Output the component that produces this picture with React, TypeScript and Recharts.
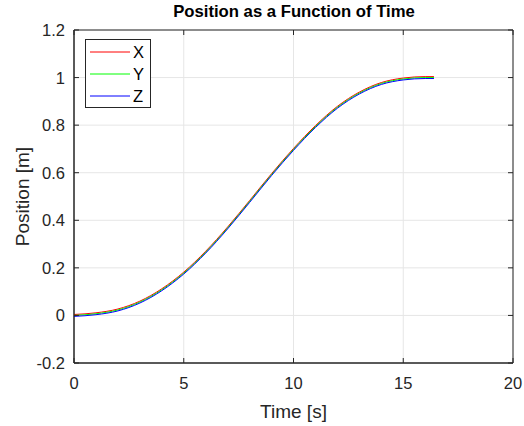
import { LineChart, Line, XAxis, YAxis, CartesianGrid, ReferenceArea } from "recharts";

// time samples [s]
const time = [0, 1, 2, 3, 4, 5, 6, 7, 8, 9, 10, 11, 12, 13, 14, 15, 16, 16.4];
// positions [m]
const posX = [0.004, 0.011, 0.027, 0.06, 0.112, 0.182, 0.27, 0.372, 0.483, 0.596, 0.702, 0.798, 0.879, 0.939, 0.979, 0.998, 1.004, 1.004];
const posY = [0.0, 0.007, 0.023, 0.056, 0.108, 0.178, 0.266, 0.368, 0.479, 0.592, 0.698, 0.794, 0.875, 0.935, 0.975, 0.994, 1.0, 1.0];
const posZ = [-0.004, 0.003, 0.019, 0.052, 0.104, 0.174, 0.262, 0.364, 0.475, 0.588, 0.694, 0.79, 0.871, 0.931, 0.971, 0.99, 0.996, 0.996];

const xTicks = [0, 5, 10, 15, 20];
const yTicks = [-0.2, 0, 0.2, 0.4, 0.6, 0.8, 1, 1.2];

const series = [
  { key: "X", color: "#ff0000" },
  { key: "Y", color: "#00ff00" },
  { key: "Z", color: "#0000ff" },
];

const data = time.map((t, i) => ({ t, X: posX[i], Y: posY[i], Z: posZ[i] }));

const FONT = "'Liberation Sans', Arial, sans-serif";
const INK = "#262626";
const L = 74, R = 513, T = 30, B = 363;

const YTick = (props: any) => {
  const { y, payload } = props;
  return (
    <g>
      <line x1={L} x2={L + 5} y1={y} y2={y} stroke={INK} />
      <line x1={R} x2={R - 5} y1={y} y2={y} stroke={INK} />
      <text x={L - 9} y={y} dy={6} textAnchor="end" fill={INK} fontSize={16.5} fontFamily={FONT}>
        {payload.value}
      </text>
    </g>
  );
};

const XTick = (props: any) => {
  const { x, payload } = props;
  return (
    <g>
      <line x1={x} x2={x} y1={B} y2={B - 5} stroke={INK} />
      <line x1={x} x2={x} y1={T} y2={T + 5} stroke={INK} />
      <text x={x} y={B + 26} textAnchor="middle" fill={INK} fontSize={16.5} fontFamily={FONT}>
        {payload.value}
      </text>
    </g>
  );
};

const LegendBox = () => (
  <svg width={67} height={70} style={{ position: "absolute", left: 85, top: 39 }}>
    <rect x={0.5} y={0.5} width={65} height={68} fill="#fff" stroke={INK} />
    {series.map((s, i) => (
      <g key={s.key}>
        <line x1={5} x2={45} y1={13 + i * 22} y2={13 + i * 22} stroke={s.color} />
        <text x={48} y={19 + i * 22} fontSize={16.5} fontFamily={FONT} fill="#000">
          {s.key}
        </text>
      </g>
    ))}
  </svg>
);

export default function App() {
  return (
    <div style={{ position: "absolute", left: 0, top: 0, width: 524, height: 426, background: "#fff" }}>
      <div style={{ position: "absolute", left: 0, width: 588, top: 2, textAlign: "center", fontFamily: FONT, fontWeight: "bold", fontSize: 16.7, color: "#000" }}>
        Position as a Function of Time
      </div>
      <LineChart width={524} height={426} data={data} margin={{ top: T, right: 524 - R, bottom: 0, left: 0 }}>
        <CartesianGrid stroke="#e6e6e6" horizontal vertical />
        <XAxis
          dataKey="t"
          type="number"
          domain={[0, 20]}
          ticks={xTicks}
          height={426 - B}
          axisLine={{ stroke: INK }}
          tickLine={false}
          tick={<XTick />}
          label={{ value: "Time [s]", position: "insideBottom", offset: 8, fill: INK, fontSize: 19, fontFamily: FONT }}
        />
        <YAxis
          type="number"
          domain={[-0.2, 1.2]}
          ticks={yTicks}
          width={L}
          axisLine={{ stroke: INK }}
          tickLine={false}
          tick={<YTick />}
          label={{ value: "Position [m]", angle: -90, position: "insideLeft", offset: 22, fill: INK, fontSize: 19, fontFamily: FONT, style: { textAnchor: "middle" } }}
        />
        <ReferenceArea x1={0} x2={20} y1={-0.2} y2={1.2} fill="none" stroke={INK} strokeWidth={1} ifOverflow="visible" />
        {series.map((s) => (
          <Line key={s.key} dataKey={s.key} type="monotone" stroke={s.color} strokeWidth={1} dot={false} isAnimationActive={false} />
        ))}
      </LineChart>
      <LegendBox />
    </div>
  );
}
